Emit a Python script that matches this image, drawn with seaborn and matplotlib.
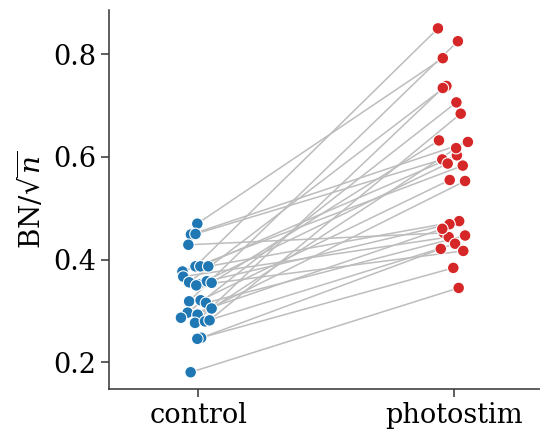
import numpy as np
import pandas as pd
import matplotlib
matplotlib.use("Agg")
import matplotlib.pyplot as plt
import seaborn as sns

# paired values (control -> photostim)
control = [0.470, 0.449, 0.450, 0.429, 0.387, 0.387, 0.387, 0.377, 0.367,
           0.356, 0.352, 0.358, 0.355, 0.319, 0.321, 0.316, 0.305, 0.297,
           0.287, 0.293, 0.277, 0.280, 0.282, 0.248, 0.246, 0.181, 0.350]
photostim = [0.792, 0.629, 0.595, 0.452, 0.850, 0.603, 0.475, 0.583, 0.444,
             0.738, 0.587, 0.469, 0.632, 0.825, 0.555, 0.447, 0.617, 0.706,
             0.460, 0.553, 0.734, 0.431, 0.684, 0.421, 0.384, 0.345, 0.417]
# horizontal jitter (in category units)
jitter_control = [-0.004, -0.029, -0.011, -0.039, -0.011, 0.008, 0.039, -0.062, -0.059,
                  -0.036, 0.000, 0.033, 0.052, -0.036, 0.009, 0.030, 0.052, -0.042,
                  -0.068, -0.003, -0.013, 0.026, 0.044, 0.011, -0.004, -0.030, -0.008]
jitter_photostim = [-0.044, 0.054, -0.046, -0.040, -0.063, 0.011, 0.020, 0.034, -0.021,
                    -0.030, -0.025, -0.018, -0.059, 0.015, -0.017, 0.043, 0.008, 0.009,
                    -0.046, 0.043, -0.044, 0.004, 0.026, -0.052, -0.003, 0.018, 0.036]
conditions = ["control", "photostim"]
colors = {"control": "#1f77b4", "photostim": "#d62728"}

sns.set_theme(context="talk", style="ticks",
              rc={"axes.linewidth": 1.1, "xtick.major.width": 1.1, "ytick.major.width": 1.1,
                  "xtick.major.size": 6, "ytick.major.size": 6,
                  "xtick.labelsize": 19.5, "ytick.labelsize": 19.5,
                  "axes.edgecolor": "#333333", "text.color": "black",
                  "xtick.color": "#333333", "ytick.color": "#333333",
                  "xtick.labelcolor": "black", "ytick.labelcolor": "black",
                  "axes.labelcolor": "black"})
plt.rcParams["font.family"] = ["DejaVu Serif"]
plt.rcParams["mathtext.fontset"] = "dejavuserif"

n = len(control)
df = pd.DataFrame({
    "cond": ["control"] * n + ["photostim"] * n,
    "x": list(np.array(jitter_control)) + list(1 + np.array(jitter_photostim)),
    "y": control + photostim,
})

fig = plt.figure(figsize=(5.4, 4.29), dpi=100)
ax = fig.add_axes([0.202, 0.094, 0.798, 0.883])

xc = df["x"].values[:n]
xp = df["x"].values[n:]
for i in range(n):
    ax.plot([xc[i], xp[i]], [control[i], photostim[i]], color="#bdbdbd", lw=1.1, zorder=1)

sns.scatterplot(data=df, x="x", y="y", hue="cond", palette=colors, s=70,
                edgecolor="white", linewidth=0.8, legend=False, zorder=3, ax=ax)

ax.set_xticks([0, 1])
ax.set_xticklabels(conditions)
ax.set_xlim(-0.349, 1.336)
ax.set_ylim(0.149, 0.886)
ax.set_yticks([0.2, 0.4, 0.6, 0.8])
ax.set_xlabel("")
ax.set_ylabel(r"BN/$\sqrt{n}$", fontsize=20)
sns.despine(ax=ax)

fig.savefig("out.png", dpi=100)
